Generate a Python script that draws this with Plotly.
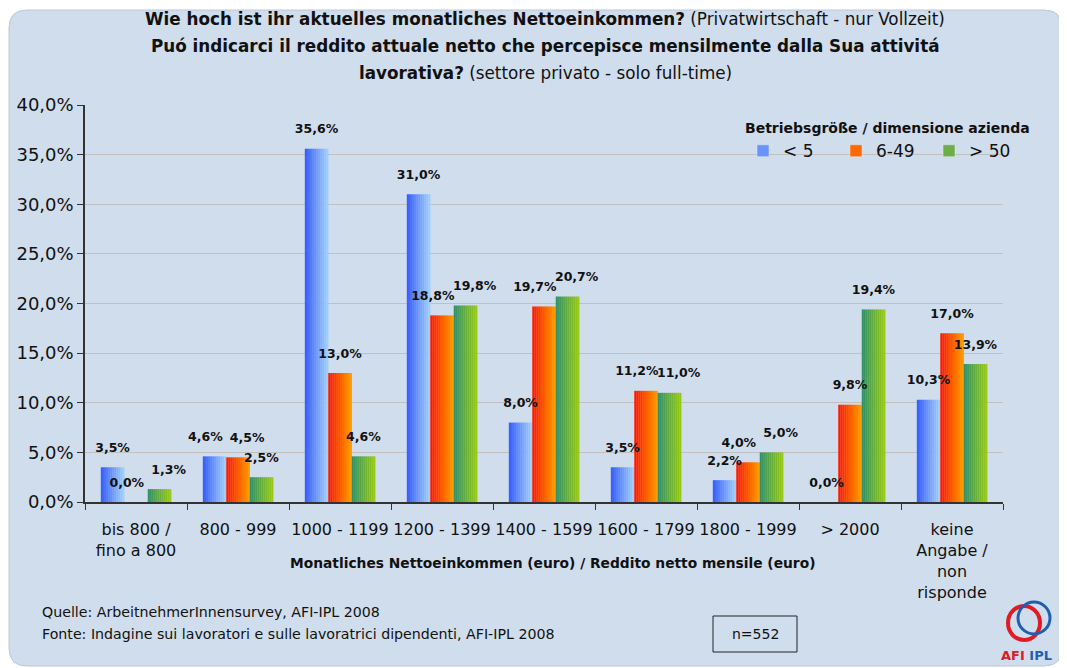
import plotly.graph_objects as go

categories = ["bis 800 /<br>fino a 800", "800 - 999", "1000 - 1199", "1200 - 1399",
              "1400 - 1599", "1600 - 1799", "1800 - 1999", "> 2000",
              "keine<br>Angabe /<br>non<br>risponde"]
lt5 = [3.5, 4.6, 35.6, 31.0, 8.0, 3.5, 2.2, 0.0, 10.3]
s6_49 = [0.0, 4.5, 13.0, 18.8, 19.7, 11.2, 4.0, 9.8, 17.0]
gt50 = [1.3, 2.5, 4.6, 19.8, 20.7, 11.0, 5.0, 19.4, 13.9]
series_names = ["< 5", "6-49", "> 50"]
y_ticks = [0, 5, 10, 15, 20, 25, 30, 35, 40]

FONT = "DejaVu Sans, Arial, sans-serif"
grad = [((55, 95, 255), (155, 205, 255)),
        ((255, 25, 0), (255, 155, 0)),
        ((50, 145, 105), (150, 200, 20))]
legend_cols = ["#6a93ff", "#ff6a00", "#6eae4a"]

W = 0.23
start = -1.5 * W
NS = 12
SERIES = [lt5, s6_49, gt50]

def fmt(v):
    return f"{v:.1f}".replace(".", ",") + "%"

fig = go.Figure()
for si, vals in enumerate(SERIES):
    c0, c1 = grad[si]
    off0 = start + si * W
    for k in range(NS):
        t = k / (NS - 1)
        col = "rgb(%d,%d,%d)" % tuple(round(a + (b - a) * t) for a, b in zip(c0, c1))
        fig.add_trace(go.Bar(x=categories, y=vals, width=W / NS + 0.002,
                             offset=off0 + k * W / NS, marker=dict(color=col, line=dict(width=0)),
                             showlegend=False, hoverinfo="skip"))

# data labels: centred over each bar, nudged apart when neighbouring labels would collide
shift = [[0.0] * len(categories) for _ in SERIES]
for ci in range(len(categories)):
    for a in range(len(SERIES) - 1):
        b = a + 1
        if abs(SERIES[a][ci] - SERIES[b][ci]) < 1.6:
            shift[a][ci] -= 0.09
            shift[b][ci] += 0.09
for si, vals in enumerate(SERIES):
    xs = [ci + start + (si + 0.5) * W + shift[si][ci] for ci in range(len(categories))]
    fig.add_trace(go.Scatter(x=xs, y=vals, xaxis="x2", mode="markers+text",
                             marker=dict(size=18, color="rgba(0,0,0,0)"),
                             text=["<b>" + fmt(v) + "</b>" for v in vals],
                             textposition="top center", cliponaxis=False,
                             textfont=dict(family=FONT, size=12.5, color="#111111"),
                             showlegend=False, hoverinfo="skip"))

for si, name in enumerate(series_names):
    fig.add_trace(go.Bar(x=[categories[0]], y=[None], name=name,
                         marker=dict(color=legend_cols[si])))

# reference-pixel -> paper helpers (plot area spans x 85..1003, y 105..502)
def px_(x):
    return (x - 85) / 918

def py_(y):
    return (502 - y) / 397

# rounded frame
x0, x1, y0, y1, r = 9, 1062, 10, 666, 18
path = (f"M {px_(x0+r)},{py_(y0)} L {px_(x1-r)},{py_(y0)} Q {px_(x1)},{py_(y0)} {px_(x1)},{py_(y0+r)} "
        f"L {px_(x1)},{py_(y1-r)} Q {px_(x1)},{py_(y1)} {px_(x1-r)},{py_(y1)} "
        f"L {px_(x0+r)},{py_(y1)} Q {px_(x0)},{py_(y1)} {px_(x0)},{py_(y1-r)} "
        f"L {px_(x0)},{py_(y0+r)} Q {px_(x0)},{py_(y0)} {px_(x0+r)},{py_(y0)} Z")
shapes = [dict(type="path", xref="paper", yref="paper", path=path,
               fillcolor="#d0ddec", line=dict(color="#b8c8dc", width=1), layer="below"),
          dict(type="rect", xref="paper", yref="paper", x0=px_(713), x1=px_(797),
               y0=py_(616), y1=py_(652), line=dict(color="#222222", width=1), fillcolor="rgba(0,0,0,0)"),
          dict(type="circle", xref="paper", yref="paper", x0=px_(1008), x1=px_(1040),
               y0=py_(606), y1=py_(640), line=dict(color="#e01b24", width=4)),
          dict(type="circle", xref="paper", yref="paper", x0=px_(1018), x1=px_(1050),
               y0=py_(602), y1=py_(634), line=dict(color="#1f5fb0", width=3))]

def A(text, x, y, size, xanchor="center"):
    return dict(text=text, xref="paper", yref="paper", x=px_(x), y=py_(y),
                showarrow=False, xanchor=xanchor, yanchor="middle",
                font=dict(family=FONT, size=size, color="#111111"))

annotations = [
    A("<b>Wie hoch ist ihr aktuelles monatliches Nettoeinkommen?</b> (Privatwirtschaft - nur Vollzeit)", 545, 19, 16.8),
    A("<b>Puó indicarci il reddito attuale netto che percepisce mensilmente dalla Sua attivitá</b>", 545, 46, 16.8),
    A("<b>lavorativa?</b> (settore privato - solo full-time)", 545, 73, 16.8),
    A("<b>Monatliches Nettoeinkommen (euro) / Reddito netto mensile (euro)</b>", 552, 563, 13.8),
    A("Quelle: ArbeitnehmerInnensurvey, AFI-IPL 2008", 40, 612, 14.2, "left"),
    A("Fonte: Indagine sui lavoratori e sulle lavoratrici dipendenti, AFI-IPL 2008", 40, 634, 14.2, "left"),
    A("n=552", 755, 634, 14),
    A("<b><span style='color:#e01b24'>AFI</span> <span style='color:#1f5fb0'>IPL</span></b>", 1027, 655, 13),
]

XR = [-0.5, len(categories) - 0.5]
fig.update_layout(
    width=1059, height=660,
    margin=dict(l=77, r=64, t=97, b=166, autoexpand=False),
    paper_bgcolor="white", plot_bgcolor="rgba(0,0,0,0)",
    barmode="overlay", separators=",.",
    font=dict(family=FONT, color="#111111"),
    showlegend=True,
    legend=dict(orientation="h", xref="paper", yref="paper",
                x=px_(743), y=py_(115), xanchor="left", yanchor="top",
                bgcolor="rgba(0,0,0,0)", entrywidth=48, entrywidthmode="pixels",
                font=dict(family=FONT, size=17, color="#111111"),
                title=dict(text="<b>Betriebsgröße / dimensione azienda</b>", side="top",
                           font=dict(family=FONT, size=14, color="#111111"))),
    xaxis=dict(type="category", categoryorder="array", categoryarray=categories, range=XR,
               showline=True, linecolor="#333333", linewidth=2,
               ticks="outside", tickson="boundaries", ticklen=6, tickcolor="#333333",
               tickangle=0, ticklabelstandoff=12,
               tickfont=dict(family=FONT, size=16, color="#111111"), showgrid=False),
    xaxis2=dict(overlaying="x", range=XR, visible=False, showgrid=False, zeroline=False),
    yaxis=dict(range=[0, 40], tickvals=y_ticks, ticktext=[fmt(v) for v in y_ticks],
               showline=True, linecolor="#333333", linewidth=1.5,
               ticks="outside", ticklen=6, tickcolor="#333333",
               gridcolor="#c0c0c0", gridwidth=1, zeroline=False,
               tickfont=dict(family=FONT, size=18, color="#111111")),
    shapes=shapes, annotations=annotations,
)

fig.write_html("out.html")
